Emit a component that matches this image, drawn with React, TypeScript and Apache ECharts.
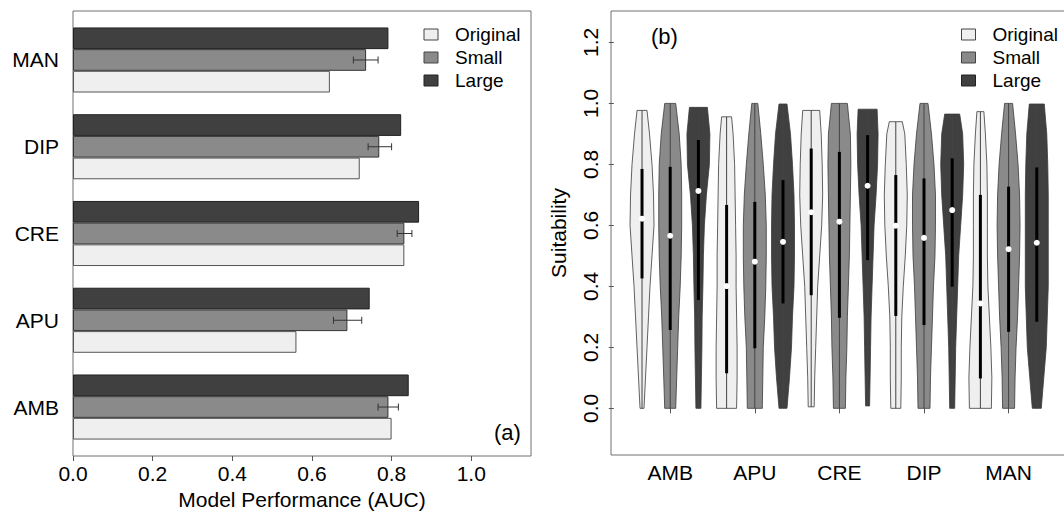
import React, { useEffect, useRef } from 'react';
import * as echarts from 'echarts';

const FONT = '"Liberation Sans", Arial, Helvetica, sans-serif';

// ---------- Panel (a): model performance ----------
const CATS = ['AMB', 'APU', 'CRE', 'DIP', 'MAN'];
const ORIGINAL_AUC = [0.800, 0.561, 0.832, 0.720, 0.645];
const SMALL_AUC = [0.792, 0.689, 0.832, 0.769, 0.736];
const SMALL_ERR_LO = [0.766, 0.654, 0.814, 0.741, 0.704];
const SMALL_ERR_HI = [0.817, 0.725, 0.851, 0.800, 0.766];
const LARGE_AUC = [0.843, 0.745, 0.869, 0.824, 0.792];
const AUC_TICKS = [0, 0.2, 0.4, 0.6, 0.8, 1.0];

// ---------- Panel (b): suitability violins ----------
const SUIT_TICKS = [0, 0.2, 0.4, 0.6, 0.8, 1.0, 1.2];
const DENS_LEVELS = [0.1, 0.2, 0.3, 0.4, 0.5, 0.6, 0.7, 0.8, 0.9];
const DENS_MAX = 24;

const ORIG_MIN = [0, 0, 0.005, 0, 0];
const ORIG_MAX = [0.977, 0.956, 0.977, 0.94, 0.973];
const ORIG_Q1 = [0.426, 0.115, 0.371, 0.303, 0.098];
const ORIG_MED = [0.622, 0.401, 0.643, 0.599, 0.344];
const ORIG_Q3 = [0.785, 0.667, 0.852, 0.765, 0.7];
const ORIG_DENS = [
  [4, 7, 10, 13, 16, 20, 24, 23, 20, 15, 10],
  [20, 21, 21, 20, 19, 19, 18, 17, 16, 13, 10],
  [6, 7, 9, 11, 13, 17, 21, 23, 22, 20, 17],
  [10, 11, 11, 12, 15, 19, 22, 23, 21, 18, 13],
  [22, 23, 21, 18, 15, 14, 14, 14, 13, 10, 7],
];

const SMALL_MIN = [0, 0, 0, 0, 0];
const SMALL_MAX = [1, 1, 1, 1, 1];
const SMALL_Q1 = [0.257, 0.197, 0.297, 0.273, 0.251];
const SMALL_MED = [0.566, 0.481, 0.612, 0.559, 0.522];
const SMALL_Q3 = [0.792, 0.677, 0.841, 0.754, 0.727];
const SMALL_DENS = [
  [11, 13, 15, 17, 20, 22, 23, 23, 22, 18, 11],
  [15, 16, 17, 20, 22, 23, 23, 21, 17, 12, 6],
  [12, 13, 15, 16, 18, 20, 21, 22, 23, 22, 16],
  [12, 13, 15, 17, 19, 22, 23, 23, 20, 15, 8],
  [12, 13, 15, 18, 20, 22, 23, 22, 19, 14, 8],
];

const LARGE_MIN = [0, 0, 0.008, 0, 0];
const LARGE_MAX = [0.987, 0.998, 0.981, 0.965, 0.998];
const LARGE_Q1 = [0.355, 0.344, 0.486, 0.399, 0.284];
const LARGE_MED = [0.713, 0.546, 0.73, 0.65, 0.543];
const LARGE_Q3 = [0.88, 0.749, 0.896, 0.82, 0.79];
const LARGE_DENS = [
  [5, 6, 7, 7.5, 9, 10, 12, 16, 22, 23, 18],
  [8, 13, 17, 19, 22, 23, 23, 22, 19, 15, 8],
  [4, 5, 6, 7, 9, 11, 13, 17, 20, 21, 19],
  [5, 6, 7, 9, 11, 13, 17, 21, 23, 21, 15],
  [9, 14, 19, 21, 23, 23, 23, 23, 22, 20, 15],
];

const COL_ORIG = '#efefef';
const COL_SMALL = '#8a8a8a';
const COL_LARGE = '#404040';
const HALF = 0.425;

function violinSeries(name: string, t: number, color: string, st: any) {
  return {
    type: 'custom',
    name,
    xAxisIndex: 2,
    yAxisIndex: 2,
    data: CATS.map((_, i) => [3 * i + t + 1, st.med[i]]),
    encode: { x: 0, y: 1 },
    z: 3,
    renderItem: (params: any, api: any) => {
      const i = params.dataIndex;
      const pos = api.value(0);
      const ys = [st.min[i], ...DENS_LEVELS, st.max[i]];
      const d = st.dens[i];
      const right = ys.map((y: number, k: number) => api.coord([pos + (d[k] / DENS_MAX) * HALF, y]));
      const left = ys.map((y: number, k: number) => api.coord([pos - (d[k] / DENS_MAX) * HALF, y])).reverse();
      const pMin = api.coord([pos, st.min[i]]);
      const pMax = api.coord([pos, st.max[i]]);
      const pQ1 = api.coord([pos, st.q1[i]]);
      const pQ3 = api.coord([pos, st.q3[i]]);
      const pMed = api.coord([pos, st.med[i]]);
      return {
        type: 'group',
        children: [
          { type: 'polygon', shape: { points: right.concat(left) }, style: { fill: color, stroke: '#3a3a3a', lineWidth: 0.8 } },
          { type: 'line', shape: { x1: pMin[0], y1: pMin[1], x2: pMax[0], y2: pMax[1] }, style: { stroke: '#444', lineWidth: 1 } },
          { type: 'line', shape: { x1: pQ1[0], y1: pQ1[1], x2: pQ3[0], y2: pQ3[1] }, style: { stroke: '#000', lineWidth: 3 } },
          { type: 'circle', shape: { cx: pMed[0], cy: pMed[1], r: 3 }, style: { fill: '#fff' } },
        ],
      };
    },
  };
}

const legendCommon = {
  orient: 'vertical',
  top: 23,
  padding: 0,
  itemWidth: 14,
  itemHeight: 11,
  itemGap: 0,
  icon: 'rect',
  selectedMode: false,
  textStyle: { fontSize: 19, lineHeight: 23, color: '#000', fontFamily: FONT, padding: [0, 0, 0, 12] },
  data: [
    { name: 'Original', itemStyle: { color: COL_ORIG, borderColor: '#444', borderWidth: 1 } },
    { name: 'Small', itemStyle: { color: COL_SMALL, borderColor: '#444', borderWidth: 1 } },
    { name: 'Large', itemStyle: { color: COL_LARGE, borderColor: '#222', borderWidth: 1 } },
  ],
};

const axisText = { color: '#000', fontSize: 21, fontFamily: FONT };

const option: any = {
  animation: false,
  backgroundColor: '#fff',
  textStyle: { fontFamily: FONT },
  legend: [
    { ...legendCommon, left: 423.5 },
    { ...legendCommon, left: 961 },
  ],
  grid: [
    { left: 73, top: 11, width: 458, height: 445, show: true, borderColor: '#707070', borderWidth: 1, containLabel: false, outerBoundsMode: 'none' },
    { left: 73, top: 16.6, width: 458, height: 433.8, containLabel: false, outerBoundsMode: 'none' },
    { left: 611, top: 11, width: 456.8, height: 444, show: true, borderColor: '#707070', borderWidth: 1, containLabel: false, outerBoundsMode: 'none' },
  ],
  xAxis: [
    {
      gridIndex: 0, type: 'value', min: 0, max: 1.15,
      axisLine: { show: false },
      splitLine: { show: false },
      axisTick: { show: true, length: 5, lineStyle: { color: '#555' }, customValues: AUC_TICKS },
      axisLabel: { ...axisText, margin: 7, customValues: AUC_TICKS, formatter: (v: number) => v.toFixed(1) },
      name: 'Model Performance (AUC)', nameLocation: 'middle', nameGap: 29,
      nameTextStyle: { ...axisText },
    },
    { gridIndex: 1, type: 'value', min: 0, max: 1.15, show: false, splitLine: { show: false } },
    {
      gridIndex: 2, type: 'value', min: -0.1, max: 16.1,
      axisLine: { show: false },
      splitLine: { show: false },
      axisTick: { show: true, length: 5, lineStyle: { color: '#555' }, customValues: [2, 5, 8, 11, 14] },
      axisLabel: { ...axisText, margin: 7, customValues: [2, 5, 8, 11, 14], formatter: (v: number) => CATS[Math.round((v - 2) / 3)] },
    },
  ],
  yAxis: [
    { gridIndex: 0, type: 'value', min: 0, max: 1, show: false, splitLine: { show: false } },
    {
      gridIndex: 1, type: 'category', data: CATS,
      axisLine: { show: false }, axisTick: { show: false }, splitLine: { show: false },
      axisLabel: { ...axisText, margin: 14 },
    },
    {
      gridIndex: 2, type: 'value', min: -0.153, max: 1.303,
      axisLine: { show: false },
      splitLine: { show: false },
      axisTick: { show: true, length: 5, lineStyle: { color: '#555' }, customValues: SUIT_TICKS },
      axisLabel: { ...axisText, margin: 10, rotate: 90, customValues: SUIT_TICKS, formatter: (v: number) => v.toFixed(1) },
      name: 'Suitability', nameLocation: 'middle', nameGap: 42,
      nameTextStyle: { ...axisText },
    },
  ],
  graphic: [
    { type: 'text', x: 494, y: 432, style: { text: '(a)', fontSize: 22, fontFamily: FONT, fill: '#000', verticalAlign: 'middle' } },
    { type: 'text', x: 651, y: 36, style: { text: '(b)', fontSize: 22, fontFamily: FONT, fill: '#000', verticalAlign: 'middle' } },
  ],
  series: [
    {
      type: 'bar', name: 'Large', xAxisIndex: 1, yAxisIndex: 1, data: LARGE_AUC,
      barWidth: 21.69, barGap: '0%',
      itemStyle: { color: COL_LARGE, borderColor: '#222', borderWidth: 1 },
    },
    {
      type: 'bar', name: 'Small', xAxisIndex: 1, yAxisIndex: 1, data: SMALL_AUC,
      barWidth: 21.69, barGap: '0%',
      itemStyle: { color: COL_SMALL, borderColor: '#333', borderWidth: 1 },
    },
    {
      type: 'bar', name: 'Original', xAxisIndex: 1, yAxisIndex: 1, data: ORIGINAL_AUC,
      barWidth: 21.69, barGap: '0%',
      itemStyle: { color: COL_ORIG, borderColor: '#555', borderWidth: 1 },
    },
    {
      type: 'custom', name: 'Small error', xAxisIndex: 1, yAxisIndex: 1, z: 5,
      data: CATS.map((_, i) => [i, SMALL_ERR_LO[i], SMALL_ERR_HI[i]]),
      encode: { y: 0, x: [1, 2] },
      renderItem: (params: any, api: any) => {
        const lo = api.coord([api.value(1), api.value(0)]);
        const hi = api.coord([api.value(2), api.value(0)]);
        const h = 3.5;
        const st = { stroke: '#333', lineWidth: 1 };
        return {
          type: 'group',
          children: [
            { type: 'line', shape: { x1: lo[0], y1: lo[1], x2: hi[0], y2: hi[1] }, style: st },
            { type: 'line', shape: { x1: lo[0], y1: lo[1] - h, x2: lo[0], y2: lo[1] + h }, style: st },
            { type: 'line', shape: { x1: hi[0], y1: hi[1] - h, x2: hi[0], y2: hi[1] + h }, style: st },
          ],
        };
      },
    },
    violinSeries('Original', 0, COL_ORIG, { min: ORIG_MIN, max: ORIG_MAX, q1: ORIG_Q1, med: ORIG_MED, q3: ORIG_Q3, dens: ORIG_DENS }),
    violinSeries('Small', 1, COL_SMALL, { min: SMALL_MIN, max: SMALL_MAX, q1: SMALL_Q1, med: SMALL_MED, q3: SMALL_Q3, dens: SMALL_DENS }),
    violinSeries('Large', 2, COL_LARGE, { min: LARGE_MIN, max: LARGE_MAX, q1: LARGE_Q1, med: LARGE_MED, q3: LARGE_Q3, dens: LARGE_DENS }),
  ],
};

export default function App() {
  const ref = useRef<HTMLDivElement>(null);
  useEffect(() => {
    if (!ref.current) return;
    const chart = echarts.init(ref.current, null, { renderer: 'svg' });
    chart.setOption(option);
    return () => chart.dispose();
  }, []);
  return (
    <div
      ref={ref}
      style={{ position: 'fixed', left: 0, top: 0, width: 1064, height: 511, background: '#fff' }}
    />
  );
}
